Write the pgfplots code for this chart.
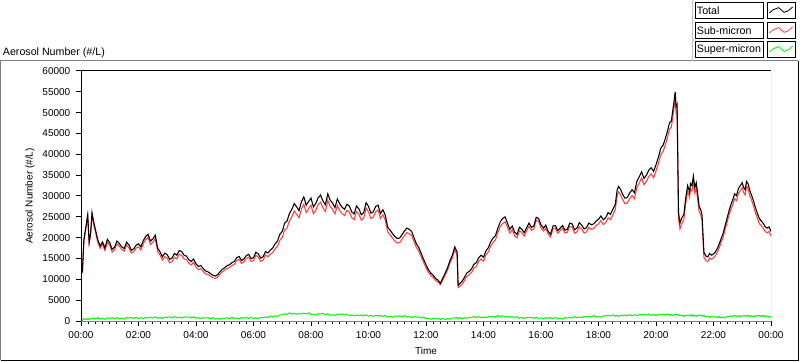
\documentclass[border=0pt]{standalone}
\usepackage{pgfplots}
\usepackage{pgfplotstable}
\usepackage{fontspec}
\setmainfont{Liberation Sans}
\pgfplotsset{compat=1.18}
\definecolor{lvred}{RGB}{255,64,64}
\definecolor{lvgreen}{RGB}{0,255,0}
\definecolor{lvgray}{RGB}{128,128,128}
\pgfplotstableread{
t tot sub sup
0 12500 12200 450
3 12000 11700 200
6 19500 19100 600
10 22500 22000 350
14 25500 25000 550
17 19000 18500 300
20 21000 20500 600
23 26000 25450 550
27 23500 22950 700
30 22000 21450 450
35 19500 18900 800
40 18000 17400 450
45 19000 18400 650
50 17500 16900 400
55 19600 18950 750
60 18800 18150 650
65 17200 16550 800
70 17700 17050 550
75 19200 18550 850
80 18600 17950 500
85 17800 17150 700
90 17400 16750 450
95 18900 18200 800
100 18300 17600 700
105 17000 16300 850
110 17300 16600 600
115 18200 17500 900
120 18500 17800 550
125 17800 17050 800
130 19300 18550 550
135 20300 19550 850
140 20800 20050 750
145 19200 18400 950
150 19700 18900 700
155 20600 19800 1000
160 17500 16700 650
165 16600 15800 850
170 15400 14600 600
175 16300 15450 950
180 15900 15050 850
185 14800 13950 1000
190 15100 14250 750
195 16200 15300 1100
200 15800 14900 750
205 16900 16000 950
210 16700 15800 700
215 15800 14900 1000
220 15600 14700 900
225 14700 13850 1000
230 14300 13450 750
235 14900 14100 1000
240 13700 12900 650
245 13100 12350 800
250 13300 12550 550
255 12600 11900 800
260 12000 11300 700
265 11800 11150 800
270 11400 10750 550
275 11000 10400 800
280 10800 10200 450
285 11100 10500 650
290 11800 11200 400
295 12400 11800 700
300 12800 12200 600
305 13300 12650 800
310 13500 12850 550
315 14000 13300 900
320 14300 13600 550
325 15200 14500 750
330 15500 14800 500
335 14500 13800 800
340 14900 14200 700
345 15700 15000 850
350 16000 15300 600
355 15000 14300 900
360 15200 14500 550
365 16500 15750 800
370 16100 15350 550
375 15100 14300 900
380 15400 14600 800
385 16700 15850 1000
390 16300 15400 800
395 17000 16000 1200
400 17500 16400 950
405 18500 17300 1250
410 19200 17900 1100
415 20800 19400 1500
420 21500 20000 1500
425 23500 21900 1750
430 24000 22300 1600
435 25800 24050 1950
440 26800 25000 1650
445 28200 26400 1850
450 27400 25600 1600
455 26500 24800 1800
460 28600 26900 1700
465 29800 28050 1900
470 27800 26000 1700
475 28700 26950 1950
480 29500 27800 1550
485 27400 25750 1700
490 28200 26600 1400
495 29600 27950 1750
500 30200 28500 1700
505 28800 27150 1800
510 27900 26300 1500
515 30500 28950 1750
520 29000 27500 1350
525 28300 26800 1550
530 27200 25700 1300
535 29300 27750 1650
540 28100 26500 1600
545 27300 25750 1700
550 26800 25300 1400
555 28000 26550 1650
560 27600 26200 1250
565 26200 24800 1450
570 25700 24300 1200
575 27600 26250 1450
580 26900 25600 1300
585 25500 24200 1450
590 26000 24700 1200
595 28400 27100 1500
600 27500 26200 1150
605 25900 24600 1350
610 26200 24900 1100
615 27500 26250 1350
620 27800 26600 1200
625 25800 24600 1350
630 26700 25500 1100
635 25400 24250 1350
640 22500 21400 950
645 21800 20700 1150
650 21000 19900 900
655 20300 19200 1200
660 19800 18700 1100
665 19900 18800 1250
670 20700 19600 1000
675 21600 20500 1300
680 22300 21200 950
685 22000 20950 1100
690 21500 20500 800
695 20000 19050 1050
700 18500 17600 900
705 17600 16750 1000
710 16200 15400 700
715 14800 14050 950
720 13500 12800 550
725 12300 11650 700
730 11500 10900 400
735 11000 10450 650
740 10200 9700 500
745 9800 9350 600
750 9100 8700 300
755 10300 9850 650
760 11500 11000 350
765 12800 12250 600
770 14500 13900 400
775 15800 15150 750
780 17800 17100 700
785 16500 15800 850
787 8600 8000 500
790 8900 8250 850
795 9500 8800 550
800 10400 9650 800
805 11500 10700 600
810 11900 11100 900
815 12500 11650 850
820 13600 12700 1050
825 14000 13100 800
830 15200 14300 1100
835 15800 14900 750
840 15300 14350 1000
845 16800 15850 750
850 17600 16600 1100
855 19000 18000 1000
860 19900 18900 1150
865 20500 19500 900
870 22300 21200 1300
875 23800 22700 950
880 24600 23400 1250
885 25000 23800 1000
890 23500 22500 1100
895 22000 21100 900
900 22800 21900 1050
905 21300 20400 800
910 20800 19950 1050
915 22500 21700 650
920 22000 21200 850
925 21200 20400 600
930 22400 21650 850
935 23500 22750 750
940 22500 21750 900
945 22800 22050 650
950 24900 24200 900
955 24600 23900 550
960 23100 22400 750
965 22300 21600 500
970 23000 22300 800
975 21500 20800 700
980 20800 20150 800
985 22800 22150 550
990 22900 22250 850
995 21700 21050 500
1000 22300 21650 700
1005 22900 22250 450
1010 21800 21100 800
1015 22000 21300 700
1020 23500 22750 900
1025 23300 22500 700
1030 21900 21050 1050
1035 22300 21400 750
1040 23600 22650 1000
1045 23000 22000 800
1050 22100 21100 1100
1055 22400 21400 1000
1060 23500 22450 1200
1065 23100 22000 1000
1070 23300 22200 1300
1075 24000 22900 950
1080 24400 23300 1150
1085 25200 24100 900
1090 24300 23150 1250
1095 24800 23600 1200
1100 26000 24750 1400
1105 25600 24300 1200
1110 26800 25500 1500
1115 28000 26700 1150
1119 31500 30200 1350
1122 32300 31000 1100
1126 31600 30300 1400
1130 30500 29200 1300
1135 29500 28200 1450
1140 29600 28300 1200
1145 30700 29350 1550
1150 31500 30100 1250
1155 30800 29350 1500
1160 33500 32000 1300
1165 34600 33100 1600
1170 35800 34300 1500
1175 34200 32700 1650
1180 35000 33500 1400
1185 36200 34700 1700
1190 36800 35300 1350
1195 35900 34400 1550
1200 37500 36000 1300
1205 39300 37800 1600
1210 41500 40000 1500
1215 42200 40700 1650
1220 44000 42500 1400
1224 45600 44100 1700
1228 47500 46000 1350
1232 48000 46500 1550
1235 50500 49000 1300
1238 53000 51500 1600
1240 55000 53500 1500
1242 51500 50000 1650
1244 52000 50500 1400
1247 26000 24600 1600
1250 23500 22100 1250
1254 24800 23450 1400
1258 25500 24200 1100
1262 29500 28200 1400
1266 32500 31200 1300
1270 31000 29700 1450
1272 33000 31700 1200
1275 32500 31200 1500
1278 34800 33500 1150
1281 32000 30700 1350
1284 33200 31900 1100
1287 30500 29200 1400
1290 27500 26200 1300
1293 26800 25550 1400
1296 25500 24250 1150
1300 16500 15300 1400
1304 15600 14450 1000
1308 15400 14300 1150
1312 16200 15150 850
1316 15800 14800 1100
1320 16100 15150 950
1324 16600 15700 1050
1328 17400 16500 800
1332 18500 17600 1100
1336 19800 18900 750
1340 21000 20100 950
1344 22800 21850 750
1348 24500 23500 1100
1352 26300 25250 1050
1356 27800 26700 1250
1360 29000 27850 1050
1364 30500 29300 1400
1368 30100 28900 1050
1372 31800 30600 1250
1376 32500 31300 1000
1380 33200 32000 1300
1383 32000 30800 1200
1386 31500 30300 1350
1389 33500 32300 1100
1392 33000 31800 1400
1396 31200 30000 1050
1400 30000 28800 1250
1404 28600 27400 1000
1408 27000 25800 1300
1412 25700 24500 1200
1416 24500 23300 1350
1420 24000 22850 1050
1424 23400 22250 1350
1428 22600 21450 1000
1432 22300 21150 1200
1436 22600 21500 900
1440 21500 20400 1200
}\datatable
\begin{document}
\begin{tikzpicture}
\useasboundingbox (0,0) rectangle (600pt,270.75pt);
\fill[white] (0,0) rectangle (600pt,270.75pt);
% outer sunken frame
\draw[lvgray, line width=0.75pt] (0.375pt,0.75pt) -- (0.375pt,225pt) -- (598.5pt,225pt);
\draw[black, line width=0.75pt] (0.375pt,0.75pt) -- (598.5pt,0.75pt) -- (598.5pt,225pt);
\draw[lvgray!50, line width=0.75pt] (519pt,225pt) -- (519pt,270.75pt);
% title
\node[anchor=west, inner sep=0pt, font=\fontsize{8}{9.6}\selectfont] at (2pt,231.5pt) {Aerosol Number (\#/L)};
% legend
\foreach \yt/\txt/\col in {268.5/Total/black, 253.5/Sub-micron/lvred, 239.25/Super-micron/lvgreen}{
  \draw[black, line width=0.75pt, fill=white] (521.25pt,\yt pt) rectangle (572.25pt,\yt pt-11.5pt);
  \node[anchor=west, inner sep=0pt, font=\fontsize{8}{9.6}\selectfont] at (522.5pt,\yt pt-5.9pt) {\txt};
  \draw[black, line width=0.75pt, fill=white] (575.25pt,\yt pt) rectangle (596.25pt,\yt pt-11.5pt);
  \draw[\col, line width=0.6pt] (577pt,\yt pt-7.5pt) -- (580pt,\yt pt-5pt) -- (584pt,\yt pt-3.5pt) -- (588pt,\yt pt-7pt) -- (591pt,\yt pt-6pt) -- (594.5pt,\yt pt-3pt);
}
\begin{axis}[
  at={(60.75pt,30pt)}, anchor=south west,
  width=517.5pt, height=187.5pt, scale only axis,
  xmin=0, xmax=1440, ymin=0, ymax=60000,
  axis line style={draw=none},
  xtick={0,120,...,1440},
  xticklabels={00:00,02:00,04:00,06:00,08:00,10:00,12:00,14:00,16:00,18:00,20:00,22:00,00:00},
  minor x tick num=7,
  ytick={0,5000,...,60000},
  scaled y ticks=false,
  /pgf/number format/set thousands separator={},
  /pgf/number format/assume math mode=true,
  tick align=outside,
  xtick pos=bottom, ytick pos=left,
  major tick length=3.5pt, minor tick length=2.2pt,
  every tick/.style={black, line width=0.75pt},
  tick label style={font=\fontsize{7.5}{9}\selectfont},
  xticklabel style={yshift=-1pt},
  yticklabel style={xshift=-1pt},
  xlabel={Time}, ylabel={Aerosol Number (\#/L)},
  label style={font=\fontsize{7.5}{9}\selectfont},
  xlabel style={at={(axis description cs:0.5,-0.12)}, anchor=center},
  ylabel style={at={(axis description cs:-0.074,0.5)}, anchor=center},
  clip=true,
]
\addplot[lvred, line width=0.8pt] table[x=t, y=sub] {\datatable};
\addplot[black, line width=0.8pt] table[x=t, y=tot] {\datatable};
\addplot[lvgreen, line width=0.75pt] table[x=t, y=sup] {\datatable};
\draw[black, line width=0.75pt] (rel axis cs:0,0) -- (rel axis cs:0,1) -- (rel axis cs:1,1);
\draw[lvgray, line width=0.75pt] (rel axis cs:0,0) -- (rel axis cs:1,0) -- (rel axis cs:1,1);
\end{axis}
\end{tikzpicture}
\end{document}
